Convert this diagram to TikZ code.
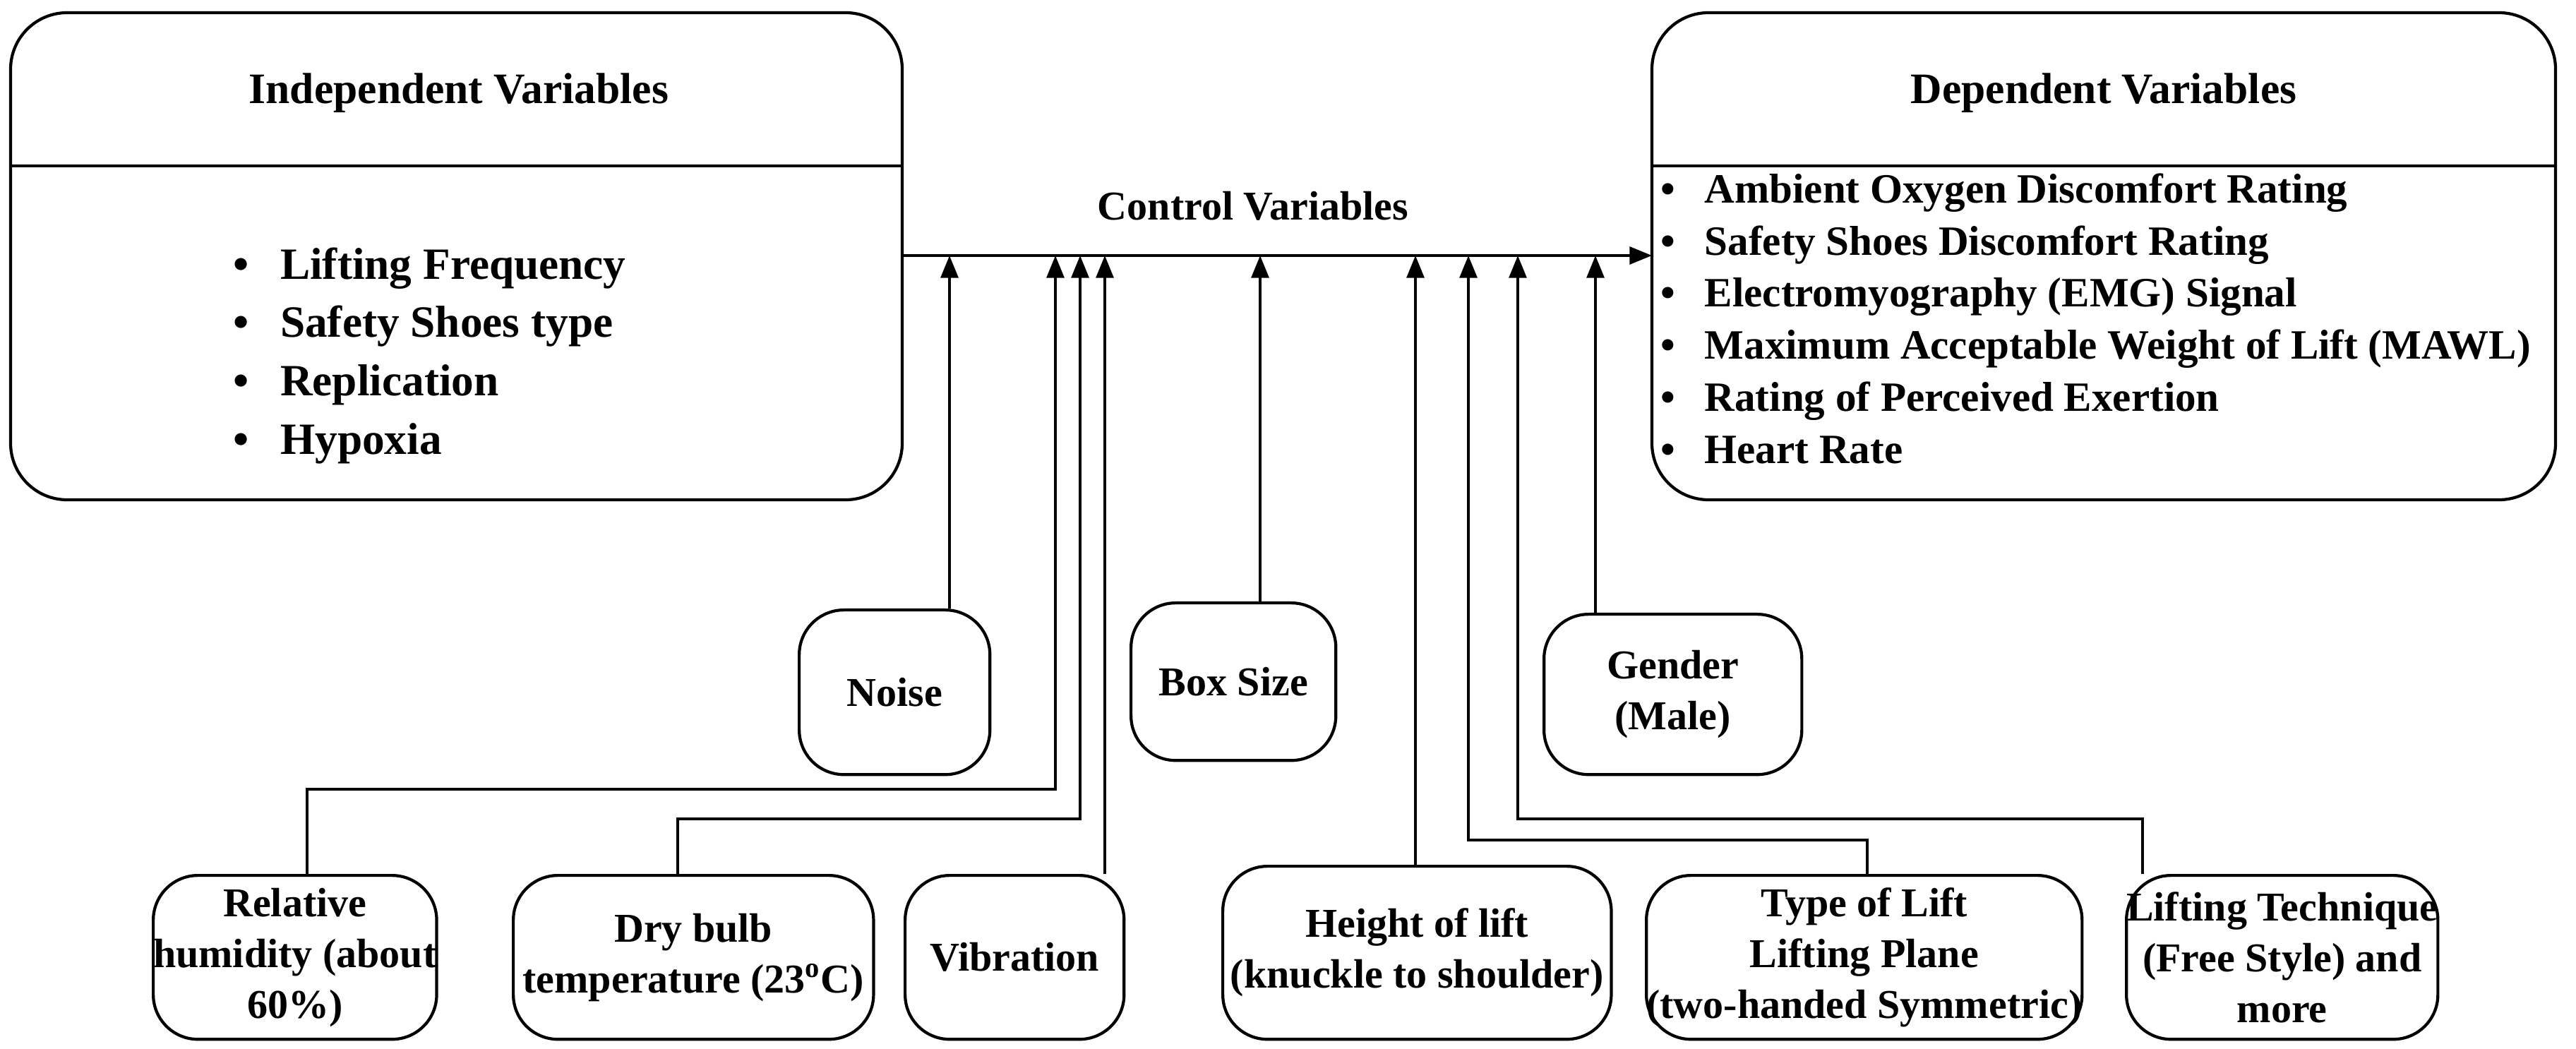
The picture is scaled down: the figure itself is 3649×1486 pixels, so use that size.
\documentclass[tikz,border=0pt]{standalone}
\usepackage{fontspec}
\setmainfont{Liberation Serif}
\usetikzlibrary{arrows.meta}
\begin{document}
\begin{tikzpicture}[x=0.01cm,y=-0.01cm,
 font=\fontsize{16.5}{20.5}\selectfont\bfseries,
 box/.style={draw,line width=1.2pt,rounded corners=18pt,align=center,anchor=north west,inner sep=2pt},
 arr/.style={line width=1.2pt,-{Triangle[length=9pt,width=7pt]}},
 ln/.style={line width=1.2pt}]
\useasboundingbox (0,0) rectangle (3649,1486);
% Independent
\draw[ln,rounded corners=0.8cm] (15,235) -- (15,708) -- (1278,708) -- (1278,18) -- (15,18) -- cycle;
\draw[ln] (15,235) -- (1278,235);
\node[font=\fontsize{17.5}{21}\selectfont\bfseries] (ind) at (650,132) {Independent Variables};
\node[anchor=north west,align=left,inner sep=0pt,font=\fontsize{18}{23.5}\selectfont\bfseries] (indl) at (330,350) {%
\textbullet\hspace{0.7em}Lifting Frequency\\ \textbullet\hspace{0.7em}Safety Shoes type\\ \textbullet\hspace{0.7em}Replication\\ \textbullet\hspace{0.7em}Hypoxia};
% Dependent
\draw[ln,rounded corners=0.8cm] (2340,235) -- (2340,708) -- (3620,708) -- (3620,18) -- (2340,18) -- cycle;
\draw[ln] (2340,235) -- (3620,235);
\node[font=\fontsize{17.5}{21}\selectfont\bfseries] (dep) at (2980,132) {Dependent Variables};
\node[anchor=north west,align=left,inner sep=0pt,font=\fontsize{16.8}{21}\selectfont\bfseries] (depl) at (2352,245) {%
\textbullet\hspace{0.7em}Ambient Oxygen Discomfort Rating\\
\textbullet\hspace{0.7em}Safety Shoes Discomfort Rating\\
\textbullet\hspace{0.7em}Electromyography (EMG) Signal\\
\textbullet\hspace{0.7em}Maximum Acceptable Weight of Lift (MAWL)\\
\textbullet\hspace{0.7em}Rating of Perceived Exertion\\
\textbullet\hspace{0.7em}Heart Rate};
% main line
\coordinate (ls) at (1278,362);
\coordinate (le) at (2340,362);
\draw[arr] (ls) -- (le);
\node (cv) at (1775,292) {Control Variables};
% upper boxes
\node[box,minimum width=2.7cm,minimum height=2.33cm] (noise) at (1130,862) {Noise};
\node[box,minimum width=2.9cm,minimum height=2.23cm] (bsize) at (1600,852) {Box Size};
\node[box,minimum width=3.65cm,minimum height=2.27cm] (gender) at (2185,868) {Gender\\(Male)};
% lower boxes
\node[box,minimum width=2.8cm,minimum height=2.32cm,inner sep=0pt] (rh) at (215,1238) {Relative\\humidity (about\\60\%)};
\node[box,minimum width=5.1cm,minimum height=2.32cm] (dry) at (725,1238) {Dry bulb\\temperature (23\textsuperscript{o}C)};
\node[box,minimum width=3.1cm,minimum height=2.32cm] (vib) at (1280,1238) {Vibration};
\node[box,minimum width=5.5cm,minimum height=2.45cm] (hl) at (1730,1225) {Height of lift\\(knuckle to shoulder)};
\node[box,minimum width=4.9cm,minimum height=2.32cm,inner sep=0pt] (tl) at (2330,1238) {Type of Lift\\Lifting Plane\\(two-handed Symmetric)};
\node[box,minimum width=3.35cm,minimum height=2.32cm,inner sep=0pt] (lt) at (3010,1238) {Lifting Technique\\(Free Style) and\\more};
% targets on main line
\foreach \n/\x in {a/1345,b/1495,c/1530,d/1565,e/1785,f/2005,g/2080,h/2150,i/2260}
  \coordinate (t\n) at (\x,362);
\draw[arr] (noise.north -| ta) -- (ta);
\draw[arr] (bsize.north -| te) -- (te);
\draw[arr] (gender.north -| ti) -- (ti);
\draw[arr] (rh.north -| 435,0) |- (1495,1118) -- (tb);
\draw[arr] (dry.north -| 960,0) |- (1530,1160) -- (tc);
\draw[arr] (vib.north -| td) -- (td);
\draw[arr] (hl.north -| tf) -- (tf);
\draw[arr] (tl.north -| 2645,0) |- (2080,1190) -- (tg);
\draw[arr] (lt.north -| 3035,0) |- (2150,1160) -- (th);
\end{tikzpicture}
\end{document}
